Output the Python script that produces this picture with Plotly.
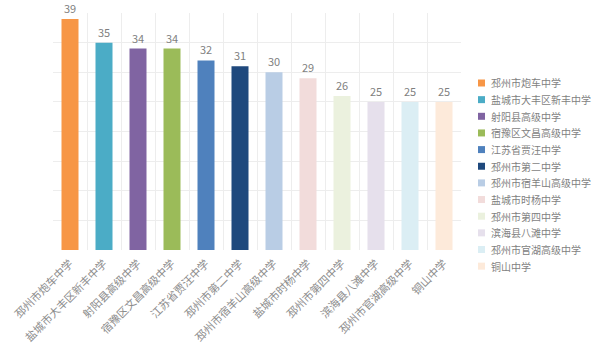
import plotly.graph_objects as go

schools = ["邳州市炮车中学", "盐城市大丰区新丰中学", "射阳县高级中学", "宿豫区文昌高级中学",
           "江苏省贾汪中学", "邳州市第二中学", "邳州市宿羊山高级中学", "盐城市时杨中学",
           "邳州市第四中学", "滨海县八滩中学", "邳州市官湖高级中学", "铜山中学"]
values = [39, 35, 34, 34, 32, 31, 30, 29, 26, 25, 25, 25]
colors = ["#F79646", "#4BACC6", "#8064A2", "#9BBB59", "#4F81BD", "#1F497D",
          "#B9CDE5", "#F2DCDB", "#EBF1DE", "#E6E0EC", "#DBEEF4", "#FDEADA"]

FONT = "Noto Sans CJK SC"
W, H = 600, 351
L, R, T, B = 53, 139, 13, 101
pw, ph = W - L - R, H - T - B

fig = go.Figure()
for s, v, c in zip(schools, values, colors):
    fig.add_trace(go.Bar(
        x=[s], y=[v], name=s, marker=dict(color=c, line=dict(width=0)),
        width=0.5, text=[str(v)], textposition="outside",
        textfont=dict(color="#7F7F7F", size=11, family=FONT), cliponaxis=False,
    ))

# legend drawn as paper-anchored swatches + text
def px2x(px):
    return (px - L) / pw

def py2y(py):
    return (H - B - py) / ph

leg_top, leg_step = 83.0, 16.65
for i, (s, c) in enumerate(zip(schools, colors)):
    cy = leg_top + i * leg_step
    fig.add_shape(type="rect", xref="paper", yref="paper",
                  x0=px2x(478), x1=px2x(485), y0=py2y(cy + 3.5), y1=py2y(cy - 3.5),
                  fillcolor=c, line=dict(width=0))
    fig.add_annotation(x=px2x(489), y=py2y(cy), xref="paper", yref="paper",
                       text=s, showarrow=False, xanchor="left", yanchor="middle",
                       font=dict(size=10, color="#7F7F7F", family=FONT))

fig.update_layout(
    width=W, height=H, barmode="overlay",
    margin=dict(l=L, r=R, t=T, b=B, autoexpand=False),
    paper_bgcolor="white", plot_bgcolor="white",
    font=dict(family=FONT, color="#595959"),
    showlegend=False,
    xaxis=dict(type="category", tickson="boundaries", showgrid=True, gridcolor="#EDEDED",
               gridwidth=1, tickangle=-45, tickfont=dict(size=11, color="#8C8C8C", family=FONT),
               ticklabelstandoff=4, automargin=False,
               ticks="", showline=False, zeroline=False, categoryorder="array", categoryarray=schools),
    yaxis=dict(range=[0, 40], dtick=5, showgrid=True, gridcolor="#EDEDED", gridwidth=1,
               showticklabels=False, ticks="", zeroline=False, showline=False, automargin=False),
)
fig.write_html("out.html")
